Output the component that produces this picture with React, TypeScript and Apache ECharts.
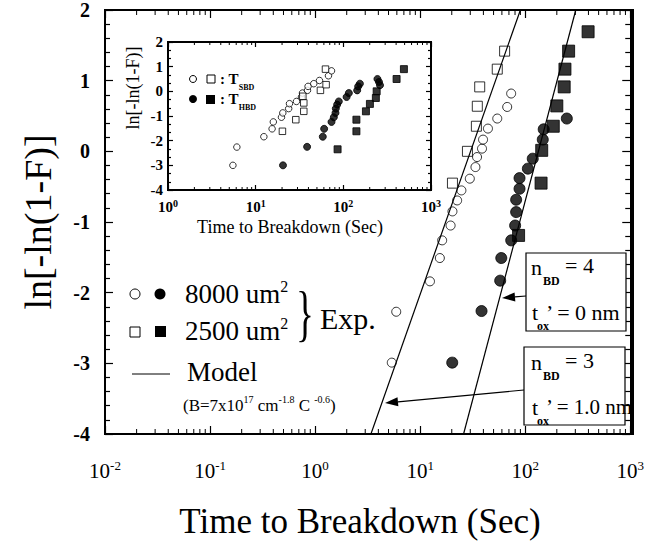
import React, { useEffect, useRef } from "react";
import * as echarts from "echarts";

// ---------- main plot data (time in sec, ln[-ln(1-F)]) ----------
const sbd8000T = [5.37, 5.92, 12.4, 15.4, 16.2, 19.5, 20.3, 22.5, 24.7, 29.7, 33.6, 34.8, 38.8, 39.7, 44.2, 54.2, 67.4, 73.5];
const sbd8000V = [-2.99, -2.27, -1.84, -1.51, -1.26, -1.05, -0.85, -0.695, -0.553, -0.387, -0.223, -0.081, 0.038, 0.166, 0.322, 0.464, 0.628, 0.818];
const hbd8000T = [20.2, 38.4, 57.8, 59.2, 73.6, 80.2, 82, 82, 88.3, 88.3, 106, 118, 147, 150, 249];
const hbd8000V = [-2.99, -2.26, -1.83, -1.51, -1.26, -1.05, -0.86, -0.685, -0.53, -0.379, -0.245, -0.104, 0.166, 0.312, 0.464];
const sbd2500T = [20.3, 28.2, 34.3, 35.0, 36.9, 54.2, 63.7];
const sbd2500V = [-0.45, 0.0, 0.355, 0.638, 0.912, 1.163, 1.418];
const hbd2500T = [86.5, 141.6, 143.6, 185, 200, 235, 239, 259, 397];
const hbd2500V = [-1.19, -0.45, 0.014, 0.355, 0.643, 0.912, 1.163, 1.418, 1.692];
const modelAT = [3.4, 90];
const modelAV = [-4, 2];
const modelBT = [25.9, 303];
const modelBV = [-4, 2];

// ---------- inset data ----------
const inSbdCircT = [5.5, 6.1, 12.4, 15.4, 15.9, 19.7, 20.4, 23.8, 24.3, 29.2, 33.3, 34.2, 39.0, 39.6, 46.0, 53.4, 67.7, 73.3];
const inSbdCircV = [-3.0, -2.26, -1.84, -1.52, -1.24, -1.05, -0.875, -0.7, -0.5, -0.41, -0.23, -0.07, 0.04, 0.2, 0.31, 0.44, 0.63, 0.83];
const inSbdSqT = [20.2, 28.7, 35.4, 35.4, 34.5, 54.8, 63.6, 62.6];
const inSbdSqV = [-1.62, -1.15, -0.81, -0.47, -0.2, 0.04, 0.27, 0.9];
const inHbdCircT = [20.5, 38.6, 58.3, 60.4, 73.3, 77.9, 81.4, 82.1, 85, 88.8, 108.9, 115.6, 143.8, 147.6, 154.5, 245, 255, 262];
const inHbdCircV = [-3.0, -2.25, -1.84, -1.52, -1.24, -1.05, -0.875, -0.7, -0.54, -0.41, -0.23, -0.07, 0.04, 0.2, 0.31, 0.5, 0.38, 0.25];
const inHbdSqT = [86, 141, 141, 181, 201, 235, 240, 405, 491];
const inHbdSqV = [-2.35, -1.62, -1.15, -0.81, -0.51, -0.27, 0.0, 0.5, 0.9];

const serif = "'Liberation Serif', 'Times New Roman', serif";

const MAIN = { left: 105, top: 10, width: 528, height: 424 };
const INSET = { left: 168, top: 42, width: 263, height: 148 };

const pairs = (t: number[], v: number[]) => t.map((x, i) => [x, v[i]]);

function minorTicks(lo: number, hi: number) {
  const out: number[][] = [];
  for (let e = lo; e < hi; e++) for (let m = 2; m <= 9; m++) out.push([m * Math.pow(10, e), 0]);
  return out;
}

const decadeLabel = (v: number) => `{b|10}{s|${Math.round(Math.log10(v))}}`;

const tickRender = (yMin: number, yMax: number, len: number) => (_p: any, api: any) => {
  const t = api.value(0);
  const b = api.coord([t, yMin]);
  const tp = api.coord([t, yMax]);
  return {
    type: "group",
    children: [
      { type: "line", shape: { x1: b[0], y1: b[1], x2: b[0], y2: b[1] - len }, style: { stroke: "#000", lineWidth: 1 } },
      { type: "line", shape: { x1: tp[0], y1: tp[1], x2: tp[0], y2: tp[1] + len }, style: { stroke: "#000", lineWidth: 1 } },
    ],
  };
};

function xAxisCfg(grid: number, pos: string, min: number, max: number, showLabel: boolean, big: boolean) {
  return {
    type: "log",
    logBase: 10,
    gridIndex: grid,
    position: pos,
    min,
    max,
    splitNumber: Math.round(Math.log10(max / min)),
    axisLine: { show: true, onZero: false, lineStyle: { color: "#000", width: 2 } },
    axisTick: { show: true, inside: true, length: big ? 8 : 5, lineStyle: { color: "#000", width: 1.2 } },
    splitLine: { show: false },
    axisLabel: {
      show: showLabel,
      margin: big ? 25 : 8,
      formatter: decadeLabel,
      rich: {
        b: { fontFamily: serif, fontSize: big ? 21 : 15, fontWeight: big ? "normal" : "bold", color: "#000", lineHeight: big ? 22 : 16, verticalAlign: "bottom" },
        s: { fontFamily: serif, fontSize: big ? 13 : 10, fontWeight: big ? "normal" : "bold", color: "#000", lineHeight: big ? 13 : 10, verticalAlign: "top" },
      },
    },
  };
}

function yAxisCfg(grid: number, pos: string, showLabel: boolean, big: boolean) {
  return {
    type: "value",
    gridIndex: grid,
    position: pos,
    min: -4,
    max: 2,
    interval: 1,
    axisLine: { show: true, onZero: false, lineStyle: { color: "#000", width: 2 } },
    axisTick: { show: true, inside: true, length: big ? 8 : 5, lineStyle: { color: "#000", width: 1.2 } },
    minorTick: { show: true, splitNumber: big ? 5 : 3, length: big ? 5 : 3, lineStyle: { color: "#000", width: 1.2 } },
    splitLine: { show: false },
    axisLabel: {
      show: showLabel,
      margin: big ? 15 : 5,
      fontFamily: serif,
      fontWeight: "bold",
      fontSize: big ? 20 : 15,
      color: "#000",
    },
  };
}

const openStyle = { color: "#fff", borderColor: "#000", borderWidth: 1 };
const fillStyle = { color: "#000", borderColor: "#000", borderWidth: 1 };

function txt(text: string, x: number, y: number, size: number, opts: any = {}) {
  return {
    type: "text",
    x,
    y,
    rotation: opts.rotation || 0,
    scaleX: opts.scaleX || 1,
    z: 100,
    style: {
      text,
      fill: "#000",
      fontFamily: serif,
      fontSize: size,
      fontWeight: opts.bold ? "bold" : "normal",
      align: opts.align || "left",
      textAlign: opts.align || "left",
      verticalAlign: "middle",
      textVerticalAlign: "middle",
      rich: opts.rich,
    },
  };
}

function arrow(x1: number, y1: number, x2: number, y2: number) {
  const ang = Math.atan2(y2 - y1, x2 - x1);
  const L = 13, W = 4.5;
  const bx = x2 - L * Math.cos(ang), by = y2 - L * Math.sin(ang);
  const nx = -Math.sin(ang), ny = Math.cos(ang);
  return [
    { type: "line", z: 100, shape: { x1, y1, x2: bx, y2: by }, style: { stroke: "#000", lineWidth: 1.2 } },
    { type: "polygon", z: 100, shape: { points: [[x2, y2], [bx + nx * W, by + ny * W], [bx - nx * W, by - ny * W]] }, style: { fill: "#000" } },
  ];
}

// frame edges drawn as short overlapping filled segments
function frameSegments(g: { left: number; top: number; width: number; height: number }, w: number) {
  const l = g.left, t = g.top, r = g.left + g.width, b = g.top + g.height;
  const h = w / 2;
  const step = 40;
  const out: any[] = [];
  const bar = (x: number, y: number, width: number, height: number) => ({
    type: "rect",
    z: 150,
    shape: { x, y, width, height },
    style: { fill: "#000" },
  });
  for (let x = l - h; x < r + h; x += step) {
    const wd = Math.min(step + 1, r + h - x);
    out.push(bar(x, t - h, wd, w));
    out.push(bar(x, b - h, wd, w));
  }
  for (let y = t - h; y < b + h; y += step) {
    const ht = Math.min(step + 1, b + h - y);
    out.push(bar(l - h, y, w, ht));
    out.push(bar(r - h, y, w, ht));
  }
  return out;
}

export default function App() {
  const ref = useRef<HTMLDivElement>(null);
  useEffect(() => {
    if (!ref.current) return;
    const chart = echarts.init(ref.current, null, { renderer: "svg" });
    const supRich = (size: number) => ({
      a: { fontFamily: serif, fontSize: size, color: "#000", lineHeight: size + 2, verticalAlign: "bottom" },
      s: { fontFamily: serif, fontSize: Math.round(size * 0.6), color: "#000", lineHeight: Math.round(size * 0.6), verticalAlign: "top" },
    });
    const subRich = {
      a: { fontFamily: serif, fontSize: 15, fontWeight: "bold", color: "#000", lineHeight: 16, verticalAlign: "top" },
      s: { fontFamily: serif, fontSize: 8, fontWeight: "bold", color: "#000", lineHeight: 8, verticalAlign: "bottom", padding: [0, 0, -4, 0] },
    };
    const graphics: any[] = [
      // axis titles
      txt("ln[-ln(1-F)]", 38, 222, 38, { rotation: Math.PI / 2, align: "center" }),
      txt("Time to Breakdown (Sec)", 360, 521, 35, { align: "center" }),
      txt("ln[-ln(1-F)]", 133, 88, 18, { rotation: Math.PI / 2, align: "center" }),
      txt("Time to Breakdown (Sec)", 290, 227, 18, { align: "center" }),
      // inset legend
      { type: "circle", z: 100, shape: { cx: 193, cy: 79, r: 3.5 }, style: { fill: "#fff", stroke: "#000", lineWidth: 1 } },
      { type: "rect", z: 100, shape: { x: 207, y: 75, width: 8, height: 8 }, style: { fill: "#fff", stroke: "#000", lineWidth: 1 } },
      txt("{a|: T}{s|SBD}", 220, 79, 15, { rich: subRich }),
      { type: "circle", z: 100, shape: { cx: 193, cy: 99, r: 4 }, style: { fill: "#000" } },
      { type: "rect", z: 100, shape: { x: 206, y: 95, width: 9, height: 9 }, style: { fill: "#000" } },
      txt("{a|: T}{s|HBD}", 220, 99, 15, { rich: subRich }),
      // main legend
      { type: "circle", z: 100, shape: { cx: 135, cy: 294, r: 5 }, style: { fill: "#fff", stroke: "#000", lineWidth: 1 } },
      { type: "circle", z: 100, shape: { cx: 160, cy: 294, r: 5.5 }, style: { fill: "#000" } },
      { type: "rect", z: 100, shape: { x: 130, y: 327, width: 10, height: 10 }, style: { fill: "#fff", stroke: "#000", lineWidth: 1 } },
      { type: "rect", z: 100, shape: { x: 155, y: 326, width: 11, height: 11 }, style: { fill: "#000" } },
      txt("{a|8000 um}{s|2}", 185, 293, 27, { rich: supRich(27) }),
      txt("{a|2500 um}{s|2}", 185, 330, 27, { rich: supRich(27) }),
      txt("}", 296, 313, 62, { scaleX: 0.6 }),
      txt("Exp.", 320, 318, 30),
      { type: "line", z: 100, shape: { x1: 132, y1: 374, x2: 170, y2: 374 }, style: { stroke: "#000", lineWidth: 1 } },
      txt("Model", 187, 372, 27),
      txt("{a|(B=7x10}{s|17}{a| cm}{s|-1.8}{a| C }{s|-0.6}{a|)}", 183, 404, 17, { rich: supRich(17) }),
      // annotation boxes
      { type: "rect", z: 99, shape: { x: 526, y: 253, width: 100, height: 78 }, style: { fill: "#fff", stroke: "#000", lineWidth: 1.2 } },
      txt("n", 531, 267, 22),
      txt("BD", 543, 281, 12, { bold: true }),
      txt("= 4", 565, 265, 22),
      txt("t", 532, 312, 22),
      txt("ox", 537, 326, 12, { bold: true }),
      txt("’ = 0 nm", 546, 312, 22),
      { type: "rect", z: 99, shape: { x: 524, y: 347, width: 101, height: 78 }, style: { fill: "#fff", stroke: "#000", lineWidth: 1.2 } },
      txt("n", 531, 362, 22),
      txt("BD", 543, 376, 12, { bold: true }),
      txt("= 3", 565, 360, 22),
      txt("t", 532, 407, 22),
      txt("ox", 537, 421, 12, { bold: true }),
      txt("’ = 1.0 nm", 546, 407, 21),
      ...arrow(526, 296, 502, 298),
      ...arrow(524, 390, 385, 403),
      ...frameSegments(MAIN, 2),
      ...frameSegments(INSET, 1.6),
    ];

    chart.setOption({
      animation: false,
      backgroundColor: "#fff",
      grid: [
        { ...MAIN, show: false },
        { ...INSET, show: true, backgroundColor: "#fff", borderWidth: 0 },
      ],
      xAxis: [
        xAxisCfg(0, "bottom", 0.01, 1000, true, true),
        xAxisCfg(0, "top", 0.01, 1000, false, true),
        xAxisCfg(1, "bottom", 1, 1000, true, false),
        xAxisCfg(1, "top", 1, 1000, false, false),
      ],
      yAxis: [
        yAxisCfg(0, "left", true, true),
        yAxisCfg(0, "right", false, true),
        yAxisCfg(1, "left", true, false),
        yAxisCfg(1, "right", false, false),
      ],
      series: [
        { type: "custom", xAxisIndex: 0, yAxisIndex: 0, silent: true, clip: false, data: minorTicks(-2, 3), renderItem: tickRender(-4, 2, 5) },
        { type: "custom", xAxisIndex: 2, yAxisIndex: 2, silent: true, clip: false, data: minorTicks(0, 3), renderItem: tickRender(-4, 2, 3) },
        { type: "line", xAxisIndex: 0, yAxisIndex: 0, data: pairs(modelAT, modelAV), symbol: "none", lineStyle: { color: "#000", width: 1.2 } },
        { type: "line", xAxisIndex: 0, yAxisIndex: 0, data: pairs(modelBT, modelBV), symbol: "none", lineStyle: { color: "#000", width: 1.2 } },
        { type: "scatter", xAxisIndex: 0, yAxisIndex: 0, symbol: "circle", symbolSize: 9, itemStyle: openStyle, data: pairs(sbd8000T, sbd8000V) },
        { type: "scatter", xAxisIndex: 0, yAxisIndex: 0, symbol: "circle", symbolSize: 11, itemStyle: fillStyle, data: pairs(hbd8000T, hbd8000V) },
        { type: "scatter", xAxisIndex: 0, yAxisIndex: 0, symbol: "rect", symbolSize: 10, itemStyle: openStyle, data: pairs(sbd2500T, sbd2500V) },
        { type: "scatter", xAxisIndex: 0, yAxisIndex: 0, symbol: "rect", symbolSize: 12, itemStyle: fillStyle, data: pairs(hbd2500T, hbd2500V) },
        { type: "scatter", xAxisIndex: 2, yAxisIndex: 2, symbol: "circle", symbolSize: 6.5, itemStyle: openStyle, data: pairs(inSbdCircT, inSbdCircV) },
        { type: "scatter", xAxisIndex: 2, yAxisIndex: 2, symbol: "rect", symbolSize: 6.5, itemStyle: openStyle, data: pairs(inSbdSqT, inSbdSqV) },
        { type: "scatter", xAxisIndex: 2, yAxisIndex: 2, symbol: "circle", symbolSize: 7, itemStyle: fillStyle, data: pairs(inHbdCircT, inHbdCircV) },
        { type: "scatter", xAxisIndex: 2, yAxisIndex: 2, symbol: "rect", symbolSize: 7, itemStyle: fillStyle, data: pairs(inHbdSqT, inHbdSqV) },
      ],
      graphic: graphics,
    });
    return () => chart.dispose();
  }, []);
  return <div ref={ref} style={{ position: "fixed", left: 0, top: 0, width: 647, height: 541 }} />;
}
